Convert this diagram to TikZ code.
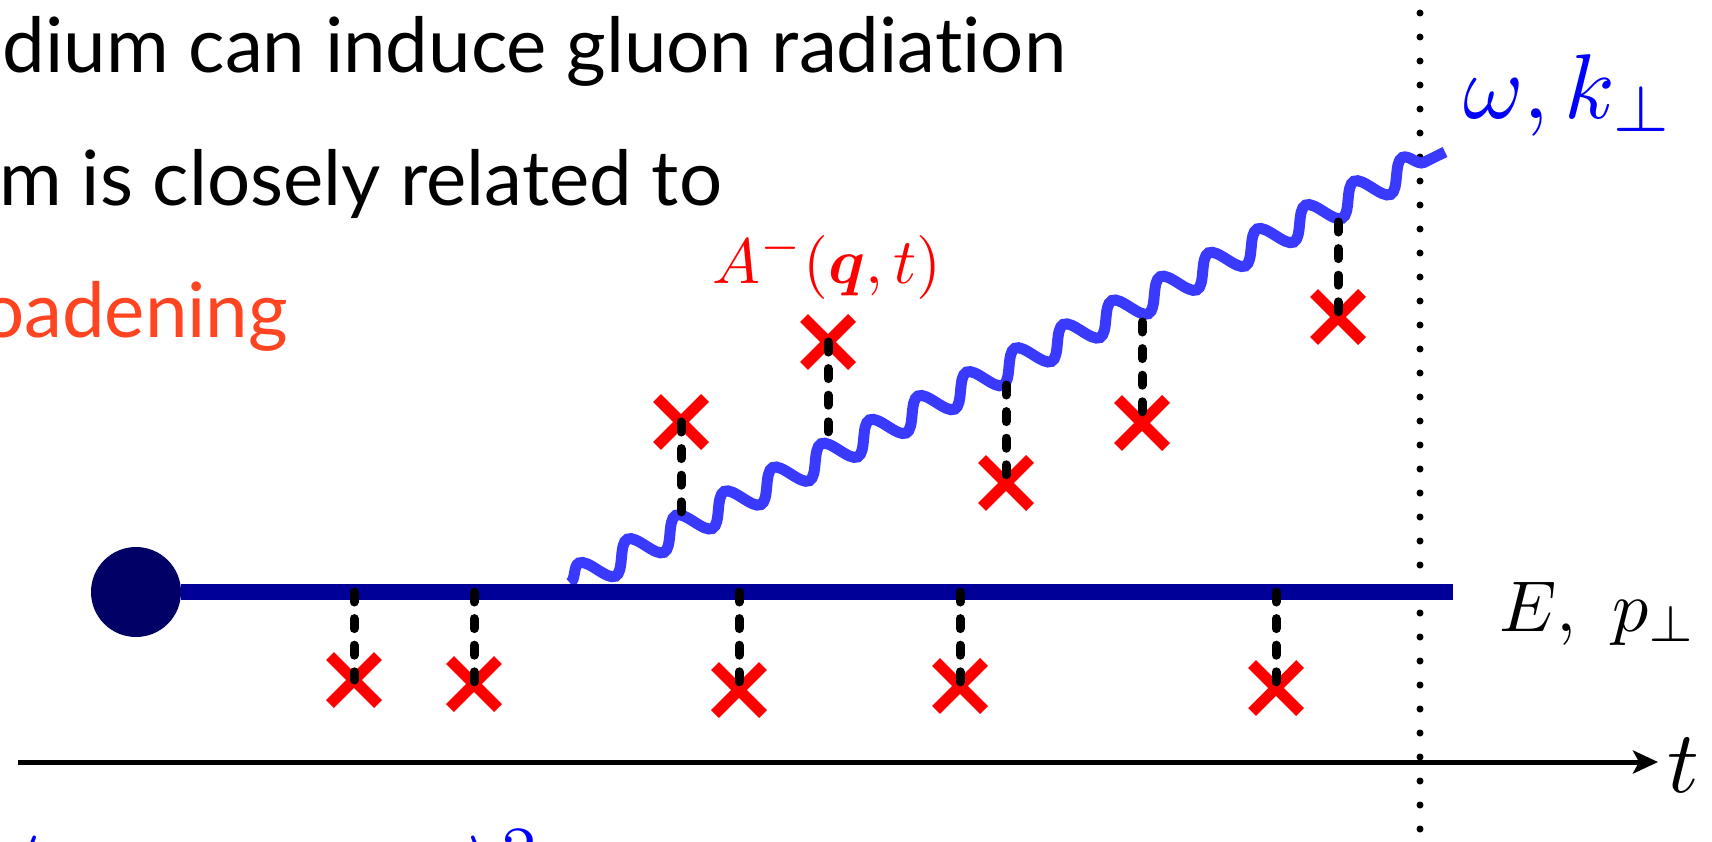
\documentclass[tikz,border=0pt]{standalone}
\usepackage{amsmath,bm}
\usepackage{fontspec}
\newfontfamily\gillfont[Ligatures=NoCommon]{Lato}
\usetikzlibrary{decorations.pathmorphing,shapes.misc,arrows.meta}
\definecolor{partline}{RGB}{0,0,153}
\definecolor{partdot}{RGB}{0,0,102}
\definecolor{gluon}{RGB}{58,58,255}
\definecolor{xred}{RGB}{255,0,0}
\definecolor{broad}{RGB}{255,68,34}
\definecolor{kblue}{RGB}{0,0,255}
\begin{document}
\begin{tikzpicture}[x=0.5pt,y=-0.5pt,
  partcl/.style={draw=partline, line width=8pt},
  gluonline/.style={draw=gluon, line width=5.5pt, decorate,
    decoration={snake, segment length=27pt, amplitude=7pt}},
  xmark/.style={cross out, draw=xred, line width=5.5pt, minimum size=18.5pt,
    inner sep=0pt, line cap=butt},
  dashconn/.style={draw=black, line width=4.5pt, line cap=round,
    dash pattern=on 5pt off 8.3pt},
  dotline/.style={draw=black, line width=3.5pt, line cap=round,
    dash pattern=on 0pt off 12pt},
  txt/.style={inner sep=0pt, outer sep=0pt},
  mtxt/.style={inner sep=0pt, outer sep=0pt, transform shape, scale=#1},
]
\clip (0,0) rectangle (1712,841);

% text
\node[txt, anchor=base west, font={\gillfont\fontsize{38.1}{44}\selectfont}] (t1) at (3,72.7) {dium can induce gluon radiation};
\node[txt, anchor=base east, font={\gillfont\fontsize{38.1}{44}\selectfont}] (t2) at (722,205) {m is closely related to};
\node[txt, anchor=base east, text=broad, font={\gillfont\fontsize{38.1}{44}\selectfont}] (t3) at (288,337) {oadening};

% dotted vertical line
\coordinate (dtop) at (1420,13);
\coordinate (dbot) at (1420,860);
\draw[dotline] (dtop) -- (dbot);

% time axis
\coordinate (ax0) at (18,762);
\coordinate (ax1) at (1658,762);
\draw[line width=2.5pt, -{Stealth[length=12.5pt,width=11.5pt,inset=3pt]}] (ax0) -- (ax1);
\node[mtxt=4.4, anchor=base west] (tlab) at (1667,792) {$t$};

% gluon
\coordinate (g0) at (570,583);
\coordinate (g1) at (1445,152);
\draw[gluonline] (g0) -- (g1);

% particle
\node[circle, fill=partdot, minimum size=45pt, inner sep=0pt] (src) at (136,592) {};
\coordinate (pend) at (1453,592);
\draw[partcl] (src) -- (pend);

% labels
\node[mtxt=3.2, anchor=base west, text=xred] (alab) at (712,283) {$A^{-}(\bm{q},t)$};
\node[mtxt=4.6, anchor=base west, text=kblue] (wlab) at (1463,118) {$\omega,k_\perp$};
\node[mtxt=3.6, anchor=base west] (elab) at (1499,631) {$E,\ p_\perp$};

% bottom fragments
\node[mtxt=4.5, anchor=base west, text=kblue] (bl) at (6,903) {$\langle$};
\node[mtxt=4.5, anchor=base west, text=kblue] (br) at (466,903) {$\rangle^2$};

% crosses
\node[xmark] (x1) at (354,680) {};
\node[xmark] (x2) at (474,684) {};
\node[xmark] (x3) at (739,690) {};
\node[xmark] (x4) at (960,686) {};
\node[xmark] (x5) at (1276,688) {};
\node[xmark] (y1) at (681,422) {};
\node[xmark] (y2) at (828,342) {};
\node[xmark] (y3) at (1006,483) {};
\node[xmark] (y4) at (1142,423) {};
\node[xmark] (y5) at (1338,317) {};

% attachment points
\coordinate (l1) at (354,592);
\coordinate (l2) at (474,592);
\coordinate (l3) at (739,592);
\coordinate (l4) at (960,592);
\coordinate (l5) at (1276,592);
\coordinate (w1) at (681,523);
\coordinate (w2) at (828,442);
\coordinate (w3) at (1006,385);
\coordinate (w4) at (1142,322);
\coordinate (w5) at (1338,222);

% dashed connectors
\draw[dashconn] (l1) -- (x1.center);
\draw[dashconn] (l2) -- (x2.center);
\draw[dashconn] (l3) -- (x3.center);
\draw[dashconn] (l4) -- (x4.center);
\draw[dashconn] (l5) -- (x5.center);
\draw[dashconn] (y1.center) -- (w1);
\draw[dashconn] (y2.center) -- (w2);
\draw[dashconn] (w3) -- (y3.center);
\draw[dashconn] (w4) -- (y4.center);
\draw[dashconn] (w5) -- (y5.center);
\end{tikzpicture}
\end{document}
